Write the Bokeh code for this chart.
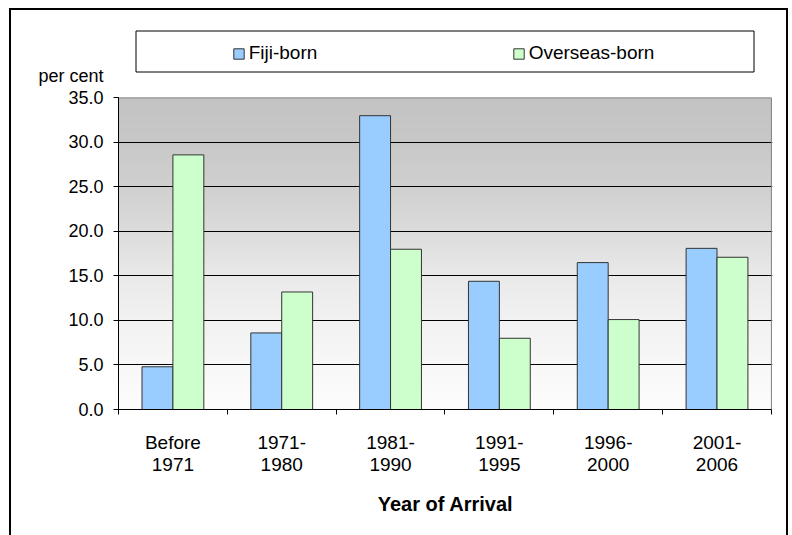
import numpy as np
from bokeh.plotting import figure
from bokeh.models import (Range1d, FixedTicker, NumeralTickFormatter, Legend, LegendItem,
                          BoxAnnotation, ColumnDataSource)
from bokeh.transform import dodge
from bokeh.embed import file_html
from bokeh.resources import INLINE

# ---- data ----
categories = ["Before\n1971", "1971-\n1980", "1981-\n1990", "1991-\n1995", "1996-\n2000", "2001-\n2006"]
fiji_born = [4.8, 8.6, 33.0, 14.4, 16.5, 18.1]
overseas_born = [28.6, 13.2, 18.0, 8.0, 10.1, 17.1]
y_ticks = [0, 5, 10, 15, 20, 25, 30, 35]
y_unit_label = "per cent"
series_names = ["Fiji-born", "Overseas-born"]
series_colors = ["#99CCFF", "#CCFFCC"]

FONT = "Liberation Sans"
n = len(categories)
centers = [i + 0.5 for i in range(n)]
y_top = 35
y_max = y_top * 384 / 310      # extra room above the plot area for the legend

p = figure(width=775, height=525, output_backend="svg", toolbar_location=None,
           x_range=Range1d(0, n + 0.01), y_range=Range1d(0, y_max),
           min_border_left=107, min_border_right=18, min_border_top=13, min_border_bottom=128,
           background_fill_color="white", border_fill_color="white")
p.styles = {"box-sizing": "content-box", "margin-left": "9px", "margin-top": "8px",
            "border-left": "2px solid black", "border-top": "2px solid black",
            "border-right": "2px solid black"}

# gradient background of the plot area
stops_v = [0, 5, 10, 15, 20, 25, 30, 35]
stops_g = [253, 248, 242, 234, 220, 208, 200, 195]
rows = np.linspace(0, y_top, 350)
g = np.interp(rows, stops_v, stops_g).astype(np.uint8)
img = np.empty((350, 1), dtype=np.uint32)
view = img.view(dtype=np.uint8).reshape((350, 1, 4))
view[:, 0, 0] = g
view[:, 0, 1] = g
view[:, 0, 2] = g
view[:, 0, 3] = 255
p.image_rgba(image=[img], x=0, y=0, dw=n, dh=y_top, level="image")

# plot-area border (grey top / right edges)
area = BoxAnnotation(left=0, right=n, bottom=0, top=y_top, fill_alpha=0,
                     line_color="#808080", line_alpha=1, line_width=1, level="underlay")
p.add_layout(area)

src = ColumnDataSource(dict(x=centers, fiji=fiji_born, overseas=overseas_born))
bw = 0.284
r1 = p.vbar(x=dodge("x", -bw / 2, range=p.x_range), top="fiji", width=bw, source=src,
            fill_color=series_colors[0], line_color="#333333", line_width=1)
r2 = p.vbar(x=dodge("x", bw / 2, range=p.x_range), top="overseas", width=bw, source=src,
            fill_color=series_colors[1], line_color="#333333", line_width=1)

# axes
p.yaxis.bounds = (0, y_top)
p.yaxis.ticker = FixedTicker(ticks=y_ticks)
p.yaxis.formatter = NumeralTickFormatter(format="0.0")
p.yaxis.major_label_overrides = {y_top: y_unit_label + "\n" + "35.0" + "\n"}
p.yaxis.major_tick_out = 5
p.yaxis.major_tick_in = 0
p.yaxis.minor_tick_out = 0
p.yaxis.minor_tick_in = 0
p.yaxis.axis_line_color = "black"
p.yaxis.major_tick_line_color = "black"
p.yaxis.major_label_text_font = FONT
p.yaxis.major_label_text_font_size = "18px"
p.yaxis.major_label_text_color = "black"
p.yaxis.major_label_text_line_height = 1.1
p.yaxis.major_label_standoff = 10

p.xaxis.bounds = (0, n)
p.xaxis.ticker = FixedTicker(ticks=centers, minor_ticks=list(range(n + 1)))
p.xaxis.major_label_overrides = {c: lab for c, lab in zip(centers, categories)}
p.xaxis.major_tick_out = 0
p.xaxis.major_tick_in = 0
p.xaxis.minor_tick_out = 5
p.xaxis.minor_tick_in = 0
p.xaxis.minor_tick_line_color = "black"
p.xaxis.axis_line_color = "black"
p.xaxis.major_label_text_font = FONT
p.xaxis.major_label_text_font_size = "19px"
p.xaxis.major_label_text_color = "black"
p.xaxis.major_label_text_line_height = 1.05
p.xaxis.major_label_standoff = 17
p.xaxis.axis_label = "Year of Arrival"
p.xaxis.axis_label_text_font = FONT
p.xaxis.axis_label_text_font_size = "20px"
p.xaxis.axis_label_text_font_style = "bold"
p.xaxis.axis_label_text_color = "black"
p.xaxis.axis_label_standoff = 15

p.xgrid.visible = False
p.ygrid.ticker = FixedTicker(ticks=y_ticks[1:-1])
p.ygrid.grid_line_color = "black"
p.ygrid.grid_line_width = 1

p.outline_line_alpha = 0

# legend
legend = Legend(items=[LegendItem(label=series_names[0], renderers=[r1]),
                       LegendItem(label=series_names[1], renderers=[r2])],
                orientation="horizontal", location=(113.7, 344.6),
                margin=0, padding=0, spacing=193, label_width=70, label_standoff=4,
                glyph_width=13, glyph_height=13, label_height=13,
                border_line_alpha=0, background_fill_alpha=0,
                label_text_font=FONT, label_text_font_size="19px", label_text_color="black")
p.add_layout(legend)

legend_box = BoxAnnotation(left=122.5, right=740.5, top=18.5, bottom=59.5,
                           left_units="canvas", right_units="canvas",
                           top_units="canvas", bottom_units="canvas",
                           fill_alpha=0, line_color="black", line_alpha=1, line_width=1)
p.add_layout(legend_box)

open("out.html", "w").write(file_html(p, INLINE))
